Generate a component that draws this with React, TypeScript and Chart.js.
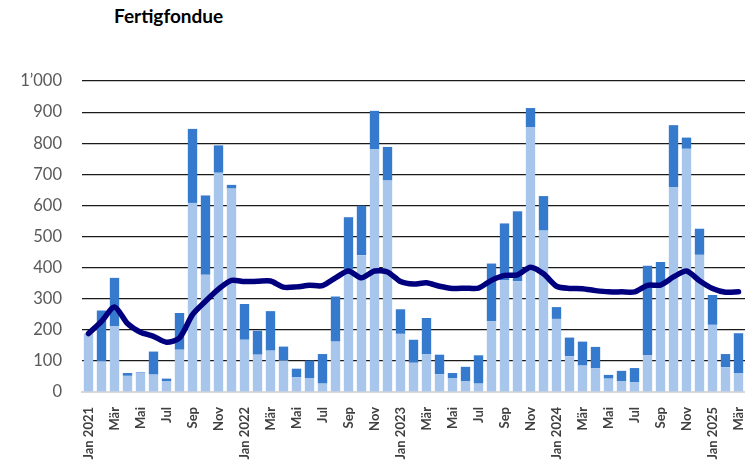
import React, { useEffect, useRef } from "react";
import { Chart, registerables } from "chart.js";

Chart.register(...registerables);

const monthNames = ["Jan", "Feb", "Mär", "Apr", "Mai", "Jun", "Jul", "Aug", "Sep", "Okt", "Nov", "Dez"];
const years = [2021, 2022, 2023, 2024, 2025];

const categories: string[] = [];
years.forEach((y) => {
  monthNames.forEach((m, i) => {
    if (y === 2025 && i > 2) return;
    categories.push(i === 0 ? `Jan ${y}` : m);
  });
});

const lightValues = [
  188, 98, 211, 52, 62, 56, 34, 136, 608, 377, 705, 654,
  168, 120, 133, 101, 47, 45, 27, 162, 394, 440, 780, 680,
  187, 94, 121, 57, 45, 34, 27, 228, 359, 356, 852, 519,
  235, 115, 85, 77, 43, 34, 31, 119, 345, 659, 782, 441,
  216, 80, 61,
];

const darkValues = [
  0, 164, 156, 9, 2, 74, 9, 118, 238, 255, 88, 12,
  115, 77, 127, 45, 28, 56, 95, 145, 168, 159, 124, 108,
  79, 74, 117, 63, 16, 47, 91, 185, 183, 225, 61, 111,
  38, 60, 77, 68, 12, 34, 46, 287, 73, 199, 36, 84,
  96, 42, 128,
];

const trendValues = [
  188, 227, 273, 220, 192, 179, 160, 174, 249, 292, 331, 359,
  355, 356, 357, 337, 338, 343, 342, 367, 389, 367, 389, 386,
  355, 347, 351, 340, 333, 334, 334, 359, 375, 377, 401, 380,
  340, 333, 332, 326, 322, 322, 322, 343, 344, 370, 389, 358,
  333, 321, 322,
];

const yTicks = [0, 100, 200, 300, 400, 500, 600, 700, 800, 900, 1000];

export default function App() {
  const ref = useRef<HTMLCanvasElement | null>(null);

  useEffect(() => {
    if (!ref.current) return;
    const chart = new Chart(ref.current, {
      type: "bar",
      data: {
        labels: categories,
        datasets: [
          {
            type: "line",
            label: "Trend",
            data: trendValues,
            borderColor: "#00007E",
            backgroundColor: "#00007E",
            borderWidth: 5.5,
            pointRadius: 0,
            tension: 0.25,
            stack: "line",
            order: 0,
            borderCapStyle: "round",
            borderJoinStyle: "round",
          } as any,
          {
            type: "bar",
            label: "A",
            data: lightValues,
            backgroundColor: "#A8C6EB",
            stack: "bars",
            order: 1,
            categoryPercentage: 0.72,
            barPercentage: 1,
          },
          {
            type: "bar",
            label: "B",
            data: darkValues,
            backgroundColor: "#357ACD",
            stack: "bars",
            order: 1,
            categoryPercentage: 0.72,
            barPercentage: 1,
          },
        ],
      },
      options: {
        animation: false,
        responsive: false,
        maintainAspectRatio: false,
        layout: { padding: { top: 81, right: 0, left: 0, bottom: 0 } },
        plugins: {
          legend: { display: false },
          tooltip: { enabled: false },
          title: { display: false },
        },
        scales: {
          x: {
            stacked: true,
            grid: { display: false },
            border: { display: true, color: "#D9D9D9", width: 2 },
            afterFit: (s: any) => {
              s.height = 72;
              s.paddingLeft = 0;
              s.paddingRight = 0;
            },
            ticks: {
              autoSkip: false,
              maxRotation: 90,
              minRotation: 90,
              padding: 7,
              color: "#404040",
              font: { family: "Lato", size: 13, weight: "bold" },
              callback: (_v: any, i: number) => (i % 2 === 0 ? categories[i] : ""),
            },
          },
          y: {
            stacked: true,
            min: 0,
            max: 1000,
            afterBuildTicks: (s: any) => {
              s.ticks = yTicks.map((v) => ({ value: v }));
            },
            afterFit: (s: any) => {
              s.width = 82;
            },
            border: { display: false },
            grid: {
              drawTicks: false,
              color: (ctx: any) => (ctx.tick && ctx.tick.value === 0 ? "rgba(0,0,0,0)" : "#1A1A1A"),
              lineWidth: 1.2,
            },
            ticks: {
              padding: 20,
              color: "#595959",
              font: { family: "Lato", size: 16.5 },
              callback: (v: any) => (v >= 1000 ? `${Math.floor(v / 1000)}’${String(v % 1000).padStart(3, "0")}` : String(v)),
            },
          },
        },
      },
    });
    return () => chart.destroy();
  }, []);

  return (
    <div style={{ position: "fixed", left: 0, top: 0, width: 745, height: 464, background: "#fff" }}>
      <div
        style={{
          position: "absolute",
          left: 114,
          top: 4,
          fontFamily: "Lato",
          fontWeight: 700,
          fontSize: 19,
          color: "#000",
          whiteSpace: "nowrap",
        }}
      >
        Fertigfondue
      </div>
      <canvas ref={ref} width={745} height={464} style={{ position: "absolute", left: 0, top: 0 }} />
    </div>
  );
}
